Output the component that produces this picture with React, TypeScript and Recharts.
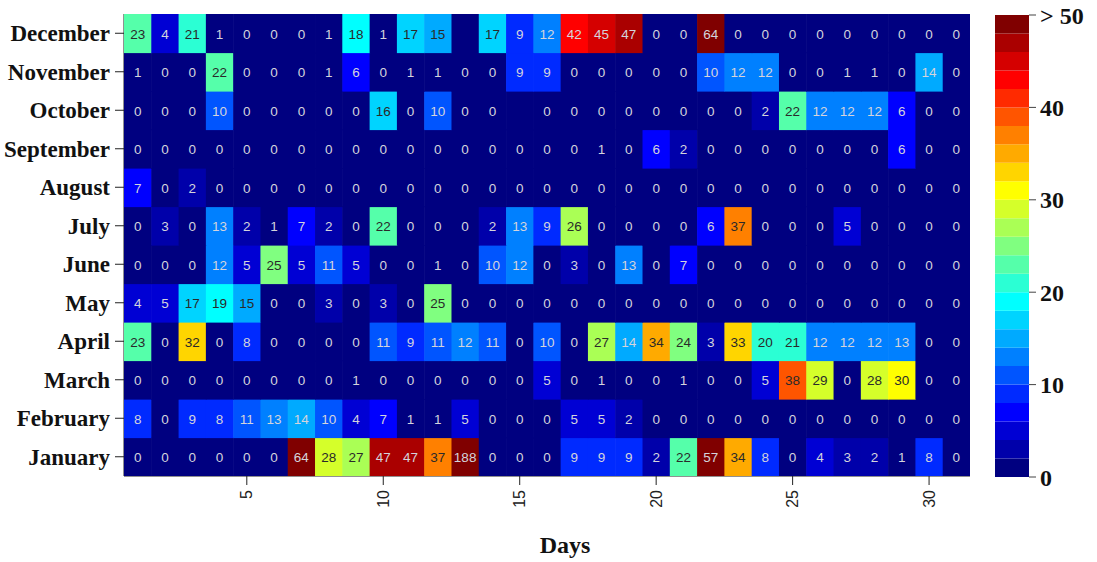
import React from 'react';
import { ScatterChart, Scatter, XAxis, YAxis, BarChart, Bar, Label } from 'recharts';

const months = ['January', 'February', 'March', 'April', 'May', 'June', 'July', 'August', 'September', 'October', 'November', 'December'];
const days = [1, 2, 3, 4, 5, 6, 7, 8, 9, 10, 11, 12, 13, 14, 15, 16, 17, 18, 19, 20, 21, 22, 23, 24, 25, 26, 27, 28, 29, 30, 31];
const dayTicks = [5, 10, 15, 20, 25, 30];
const colorbarTicks = [0, 10, 20, 30, 40, 50];
const colorbarSteps = [0, 2, 4, 6, 8, 10, 12, 14, 16, 18, 20, 22, 24, 26, 28, 30, 32, 34, 36, 38, 40, 42, 44, 46, 48];

const january = [0, 0, 0, 0, 0, 0, 64, 28, 27, 47, 47, 37, 188, 0, 0, 0, 9, 9, 9, 2, 22, 57, 34, 8, 0, 4, 3, 2, 1, 8, 0];
const february = [8, 0, 9, 8, 11, 13, 14, 10, 4, 7, 1, 1, 5, 0, 0, 0, 5, 5, 2, 0, 0, 0, 0, 0, 0, 0, 0, 0, 0, 0, 0];
const march = [0, 0, 0, 0, 0, 0, 0, 0, 1, 0, 0, 0, 0, 0, 0, 5, 0, 1, 0, 0, 1, 0, 0, 5, 38, 29, 0, 28, 30, 0, 0];
const april = [23, 0, 32, 0, 8, 0, 0, 0, 0, 11, 9, 11, 12, 11, 0, 10, 0, 27, 14, 34, 24, 3, 33, 20, 21, 12, 12, 12, 13, 0, 0];
const may = [4, 5, 17, 19, 15, 0, 0, 3, 0, 3, 0, 25, 0, 0, 0, 0, 0, 0, 0, 0, 0, 0, 0, 0, 0, 0, 0, 0, 0, 0, 0];
const june = [0, 0, 0, 12, 5, 25, 5, 11, 5, 0, 0, 1, 0, 10, 12, 0, 3, 0, 13, 0, 7, 0, 0, 0, 0, 0, 0, 0, 0, 0, 0];
const july = [0, 3, 0, 13, 2, 1, 7, 2, 0, 22, 0, 0, 0, 2, 13, 9, 26, 0, 0, 0, 0, 6, 37, 0, 0, 0, 5, 0, 0, 0, 0];
const august = [7, 0, 2, 0, 0, 0, 0, 0, 0, 0, 0, 0, 0, 0, 0, 0, 0, 0, 0, 0, 0, 0, 0, 0, 0, 0, 0, 0, 0, 0, 0];
const september = [0, 0, 0, 0, 0, 0, 0, 0, 0, 0, 0, 0, 0, 0, 0, 0, 0, 1, 0, 6, 2, 0, 0, 0, 0, 0, 0, 0, 6, 0, 0];
const october = [0, 0, 0, 10, 0, 0, 0, 0, 0, 16, 0, 10, 0, 0, null, 0, 0, 0, 0, 0, 0, 0, 0, 2, 22, 12, 12, 12, 6, 0, 0];
const november = [1, 0, 0, 22, 0, 0, 0, 1, 6, 0, 1, 1, 0, 0, 9, 9, 0, 0, 0, 0, 0, 10, 12, 12, 0, 0, 1, 1, 0, 14, 0];
const december = [23, 4, 21, 1, 0, 0, 0, 1, 18, 1, 17, 15, null, 17, 9, 12, 42, 45, 47, 0, 0, 64, 0, 0, 0, 0, 0, 0, 0, 0, 0];

const monthValues = [january, february, march, april, may, june, july, august, september, october, november, december];

const cells = monthValues.flatMap((row, mi) =>
  days.map((d, di) => ({ x: d, y: mi + 1, v: row[di] }))
);

const CHART_W = 990;
const CHART_H = 562;
const MARGIN = { top: 14, right: 20, bottom: 0, left: 0 };
const Y_AXIS_W = 124;
const X_AXIS_H = 86;
const CELL_W = (CHART_W - MARGIN.right - MARGIN.left - Y_AXIS_W) / days.length;
const CELL_H = (CHART_H - MARGIN.top - X_AXIS_H) / months.length;

const clamp = (n: number) => Math.max(0, Math.min(1, n));
const toHex = (n: number) => Math.round(clamp(n) * 255).toString(16).padStart(2, '0');
function jet(t: number) {
  const r = 1.5 - Math.abs(4 * t - 3);
  const g = 1.5 - Math.abs(4 * t - 2);
  const b = 1.5 - Math.abs(4 * t - 1);
  return '#' + toHex(r) + toHex(g) + toHex(b);
}
function colorOf(v: number | null) {
  const val = v == null ? 0 : v;
  const bin = Math.min(24, Math.floor(val / 2));
  return jet(bin / 24);
}
function textColorOf(v: number) {
  return v >= 15 && v <= 41 ? '#2a2a2a' : '#d4d4dc';
}

const CellShape = (props: any) => {
  const { cx, cy, payload } = props;
  const v = payload.v;
  return (
    <g>
      <rect
        x={cx - CELL_W / 2}
        y={cy - CELL_H / 2}
        width={CELL_W + 0.6}
        height={CELL_H + 0.6}
        fill={colorOf(v)}
      />
      {v != null && (
        <text
          x={cx}
          y={cy + 1}
          textAnchor="middle"
          dominantBaseline="central"
          fontSize={13.5}
          fontFamily="'Liberation Sans', Arial, sans-serif"
          fill={textColorOf(v)}
        >
          {v}
        </text>
      )}
    </g>
  );
};

const XTick = (props: any) => {
  const { x, y, payload } = props;
  const yy = y + 3;
  return (
    <text
      x={x}
      y={yy}
      transform={`rotate(-90, ${x}, ${yy})`}
      textAnchor="end"
      dominantBaseline="central"
      fontSize={16}
      fontFamily="'Liberation Sans', Arial, sans-serif"
      fill="#222"
    >
      {payload.value}
    </text>
  );
};

const DaysLabel = (props: any) => {
  const vb = props.viewBox || {};
  return (
    <text
      x={vb.x + vb.width / 2 + 18}
      y={vb.y + vb.height - 9}
      textAnchor="middle"
      fontSize={24}
      fontWeight={700}
      fontFamily="'Liberation Serif', 'Times New Roman', serif"
      fill="#111"
    >
      Days
    </text>
  );
};

const colorbarRow: Record<string, number> = { name: 0 } as any;
colorbarSteps.forEach((s, i) => {
  colorbarRow['b' + i] = 2;
});
const colorbarData = [colorbarRow];

const serifBold = { fontSize: 22, fontWeight: 700, fontFamily: "'Liberation Serif', 'Times New Roman', serif", fill: '#111' };

export default function App() {
  return (
    <div style={{ position: 'absolute', left: 0, top: 0, width: 1097, height: 562, background: '#fff' }}>
      <div style={{ position: 'absolute', left: 0, top: 0 }}>
        <ScatterChart width={CHART_W} height={CHART_H} margin={MARGIN}>
          <Scatter data={cells} shape={CellShape} isAnimationActive={false} />
          <XAxis
            type="number"
            dataKey="x"
            domain={[0.5, 31.5]}
            ticks={dayTicks}
            interval={0}
            height={X_AXIS_H}
            tickSize={9}
            tickMargin={2}
            axisLine={{ stroke: '#222' }}
            tickLine={{ stroke: '#222' }}
            tick={XTick}
            allowDataOverflow
          >
            <Label content={DaysLabel} />
          </XAxis>
          <YAxis
            type="number"
            dataKey="y"
            domain={[0.5, 12.5]}
            ticks={[1, 2, 3, 4, 5, 6, 7, 8, 9, 10, 11, 12]}
            interval={0}
            width={Y_AXIS_W}
            tickSize={9}
            tickMargin={5}
            axisLine={{ stroke: '#222' }}
            tickLine={{ stroke: '#222' }}
            tickFormatter={(v: number) => months[v - 1]}
            tick={{ ...serifBold, fontSize: 23 }}
            allowDataOverflow
          />
          <XAxis
            xAxisId="top"
            orientation="top"
            type="number"
            domain={[0.5, 31.5]}
            height={0}
            tick={false}
            tickLine={false}
            axisLine={{ stroke: '#222' }}
          />
          <YAxis
            yAxisId="right"
            orientation="right"
            type="number"
            domain={[0.5, 12.5]}
            width={0}
            tick={false}
            tickLine={false}
            axisLine={{ stroke: '#222' }}
          />
        </ScatterChart>
      </div>
      <div style={{ position: 'absolute', left: 995, top: 0 }}>
        <BarChart
          width={102}
          height={562}
          data={colorbarData}
          margin={{ top: 15, right: 0, bottom: 85, left: 0 }}
          barCategoryGap={0}
          barGap={0}
        >
          <XAxis dataKey="name" hide />
          <YAxis
            orientation="right"
            type="number"
            domain={[0, 50]}
            ticks={colorbarTicks}
            interval={0}
            width={68}
            axisLine={false}
            tickSize={7}
            tickMargin={4}
            tickLine={{ stroke: '#444' }}
            tickFormatter={(v: number) => (v === 50 ? '> 50' : String(v))}
            tick={{ ...serifBold, fontSize: 24 }}
          />
          {colorbarSteps.map((s, i) => (
            <Bar key={'b' + i} dataKey={'b' + i} stackId="c" fill={colorOf(s)} isAnimationActive={false} />
          ))}
        </BarChart>
      </div>
    </div>
  );
}
